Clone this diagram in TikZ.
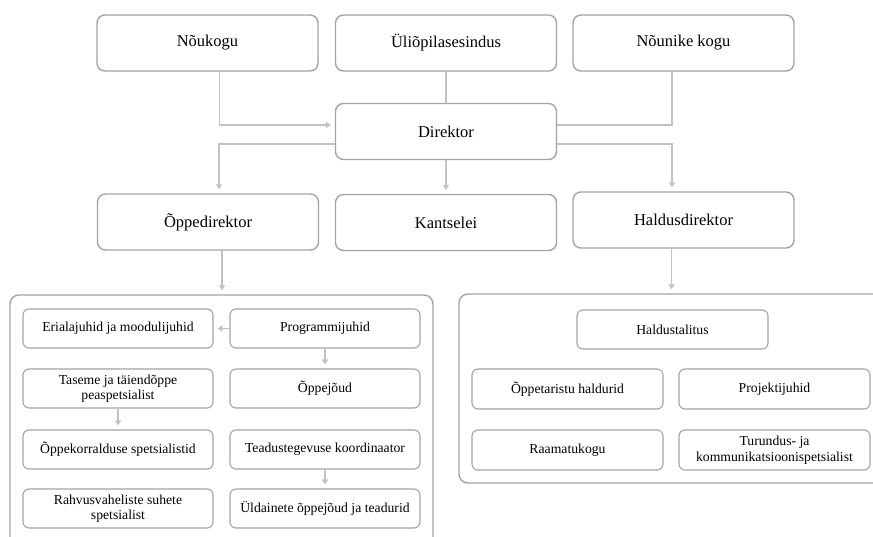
\documentclass[tikz,border=0pt]{standalone}
\usepackage{fontspec}
\setmainfont{Liberation Serif}
\newfontfamily\orgfont{Liberation Serif}
\usetikzlibrary{positioning, arrows.meta, calc}

\definecolor{boxgray}{HTML}{A3A3A3}
\definecolor{linegray}{HTML}{C2C2C2}

\begin{document}
\begin{tikzpicture}[x=1pt, y=-1pt,
		topbox/.style={draw=boxgray, line width=1.4pt, rounded corners=8pt, minimum width=221pt, minimum height=56pt, inner sep=0pt, align=center, font=\orgfont\fontsize{16.5}{18}\selectfont},
		unitbox/.style={draw=boxgray, line width=1.1pt, rounded corners=6pt, minimum width=190pt, minimum height=39pt, inner sep=0pt, align=center, font=\orgfont\fontsize{13.7}{15.5}\selectfont},
		groupbox/.style={draw=boxgray, line width=1.4pt, rounded corners=9pt, inner sep=0pt},
		link/.style={draw=linegray, line width=1.4pt},
		arr/.style={link, -{Triangle[width=6pt,length=5pt]}, shorten >=4pt}]
		\useasboundingbox (0,0) rectangle (873,536);
		\clip (0,0) rectangle (873,536);

		% leitung
		\node[topbox] (nou) at (207.5,43) {Nõukogu};
		\node[topbox] (uli) at (446,43) {Üliõpilasesindus};
		\node[topbox] (noun) at (683.5,43) {Nõunike kogu};
		\node[topbox] (dir) at (446,131.5) {Direktor};
		\node[topbox] (opd) at (208,222) {Õppedirektor};
		\node[topbox] (kan) at (446,222.5) {Kantselei};
		\node[topbox] (hal) at (683.5,220) {Haldusdirektor};

		\draw[arr] ([xshift=12pt]nou.south) |- ([yshift=6.5pt]dir.west);
		\draw[link] (uli.south) -- (dir.north);
		\draw[link] ([xshift=-11.5pt]noun.south) |- ([yshift=6.5pt]dir.east);
		\draw[arr] ([yshift=-12.5pt]dir.west) -| ([xshift=11pt]opd.north);
		\draw[arr] (dir.south) -- (kan.north);
		\draw[arr] ([yshift=-12.5pt]dir.east) -| ([xshift=-11.5pt]hal.north);

		% oppeosakond
		\node[groupbox, minimum width=423pt, minimum height=255pt] (lbox) at (221.5,422.5) {};
		\node[unitbox] (eria) at (118,328.5) {Erialajuhid ja moodulijuhid};
		\node[unitbox] (prog) at (325,328.5) {Programmijuhid};
		\node[unitbox] (tase) at (118,388.5) {Taseme ja täiendõppe\\peaspetsialist};
		\node[unitbox] (oppej) at (325,388.5) {Õppejõud};
		\node[unitbox] (oppek) at (118,449.5) {Õppekorralduse spetsialistid};
		\node[unitbox] (tead) at (325,449.5) {Teadustegevuse koordinaator};
		\node[unitbox] (rahv) at (118,508.5) {Rahvusvaheliste suhete\\spetsialist};
		\node[unitbox] (ulda) at (325,508.5) {Üldainete õppejõud ja teadurid};

		\draw[arr] ([xshift=14pt]opd.south) -- ([xshift=14pt]opd.south |- lbox.north);
		\draw[arr] (prog.west) -- (eria.east);
		\draw[arr] (prog.south) -- (oppej.north);
		\draw[arr] (tase.south) -- (oppek.north);
		\draw[arr] (tead.south) -- (ulda.north);

		% haldusosakond
		\node[groupbox, minimum width=426pt, minimum height=189pt] (rbox) at (672,388.5) {};
		\node[unitbox, minimum width=191pt] (htal) at (672.5,329.5) {Haldustalitus};
		\node[unitbox, minimum width=191pt, minimum height=40pt] (otar) at (567.5,389) {Õppetaristu haldurid};
		\node[unitbox, minimum width=191pt, minimum height=40pt] (proj) at (774.5,389) {Projektijuhid};
		\node[unitbox, minimum width=191pt, minimum height=40pt] (raam) at (567.5,450) {Raamatukogu};
		\node[unitbox, minimum width=191pt, minimum height=40pt] (turu) at (774.5,450) {Turundus- ja\\kommunikatsioonispetsialist};

		\draw[arr] ([xshift=-12pt]hal.south) -- ([xshift=-12pt]hal.south |- rbox.north);
	\end{tikzpicture}
\end{document}
